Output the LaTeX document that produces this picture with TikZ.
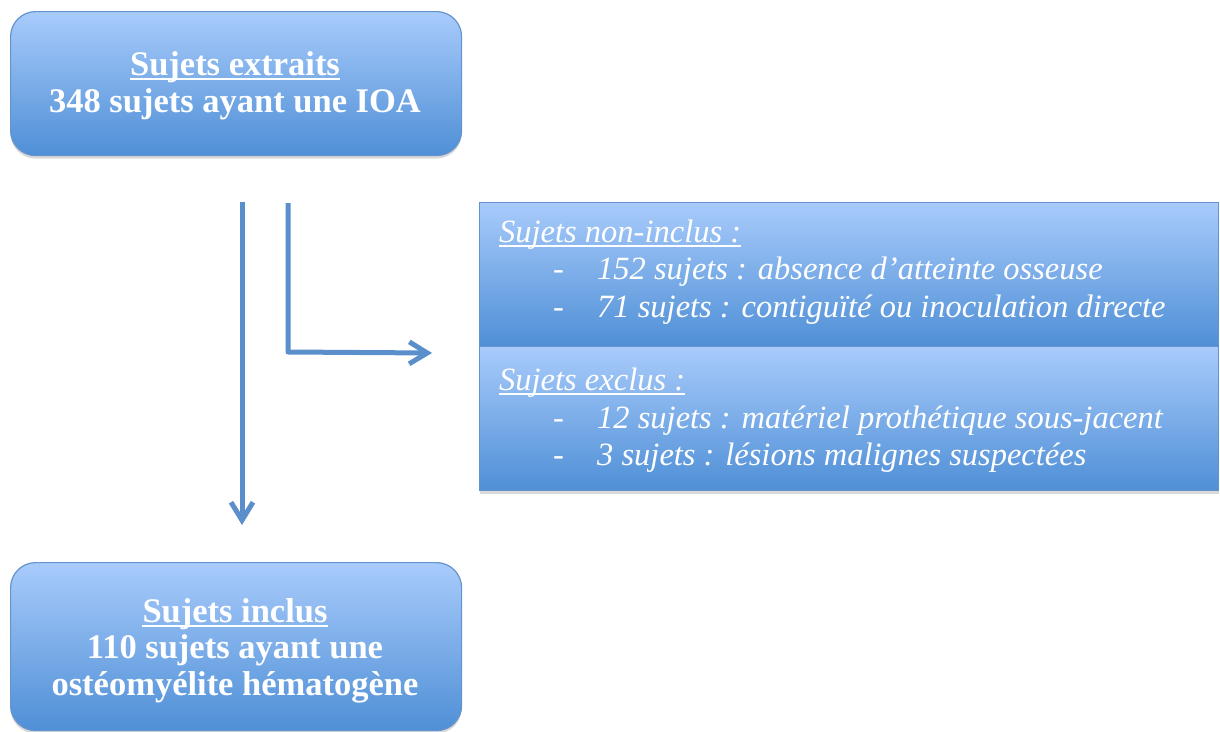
\documentclass[tikz,border=0pt]{standalone}
\usepackage{fontspec}
\setmainfont{Liberation Serif}
\usetikzlibrary{arrows.meta,shadows}
\definecolor{boxtop}{HTML}{A8CBFB}
\definecolor{boxbot}{HTML}{4F8FD6}
\definecolor{boxline}{HTML}{6594CC}
\definecolor{arrowc}{HTML}{5B8FCC}
\begin{document}
\begin{tikzpicture}[x=1pt,y=-1pt,
  bluebox/.style={draw=boxline, line width=1.2pt, top color=boxtop, bottom color=boxbot,
    drop shadow={opacity=0.3, shadow xshift=0pt, shadow yshift=-3pt}, inner sep=0pt},
  roundbox/.style={bluebox, rounded corners=25pt, minimum width=451pt, anchor=north west},
  sqbox/.style={bluebox, minimum width=739pt, minimum height=144pt, anchor=north west},
  boldtxt/.style={font=\fontsize{34.5}{40}\selectfont\bfseries, text=white, inner sep=0pt, anchor=base},
  ittxt/.style={font=\fontsize{32.5}{38}\selectfont\itshape, text=white, inner sep=0pt, anchor=base west},
  uline/.style={draw=white, line width=1.4pt},
  flowarrow/.style={draw=arrowc, line width=5pt, -{Straight Barb[length=18pt,width=22pt]}, line join=round}
]
\useasboundingbox (0,0) rectangle (1220,731);

% boxes
\node[roundbox, minimum height=144pt] (top) at (10,11) {};
\node[roundbox, minimum height=168pt] (bottom) at (10,562) {};
\node[sqbox] (nonincl) at (479,202) {};
\node[sqbox] (excl) at (479,346) {};

% top box text
\node[boldtxt] (t1) at (235,75) {Sujets extraits};
\node[boldtxt] (t2) at (235,112) {348 sujets ayant une IOA};
\draw[uline] ([yshift=-4pt]t1.base west) -- ([yshift=-4pt]t1.base east);

% bottom box text
\node[boldtxt] (t3) at (235,622) {Sujets inclus};
\node[boldtxt] (t4) at (235,658) {110 sujets ayant une};
\node[boldtxt] (t5) at (235,695) {ostéomyélite hématogène};
\draw[uline] ([yshift=-4pt]t3.base west) -- ([yshift=-4pt]t3.base east);

% right box text
\node[ittxt] (h1) at (499,242) {Sujets non-inclus :};
\draw[uline] ([yshift=-4pt]h1.base west) -- ([yshift=-4pt]h1.base east);
\node[ittxt] (d1) at (553,279) {-};
\node[ittxt] (i1) at (597,279) {152 sujets : absence d’atteinte osseuse};
\node[ittxt] (d2) at (553,317) {-};
\node[ittxt] (i2) at (597,317) {71 sujets : contiguïté ou inoculation directe};

\node[ittxt] (h2) at (499,390) {Sujets exclus :};
\draw[uline] ([yshift=-4pt]h2.base west) -- ([yshift=-4pt]h2.base east);
\node[ittxt] (d3) at (553,428) {-};
\node[ittxt] (i3) at (597,428) {12 sujets : matériel prothétique sous-jacent};
\node[ittxt] (d4) at (553,465) {-};
\node[ittxt] (i4) at (597,465) {3 sujets : lésions malignes suspectées};

% arrows
\coordinate (a1s) at (242,202);
\coordinate (a1e) at (242,525);
\coordinate (a2s) at (288,203);
\coordinate (a2c) at (288,352);
\coordinate (a2e) at (432,353);
\draw[flowarrow] (a1s) -- (a1e);
\draw[flowarrow] (a2s) -- (a2c) -- (a2e);
\end{tikzpicture}
\end{document}
